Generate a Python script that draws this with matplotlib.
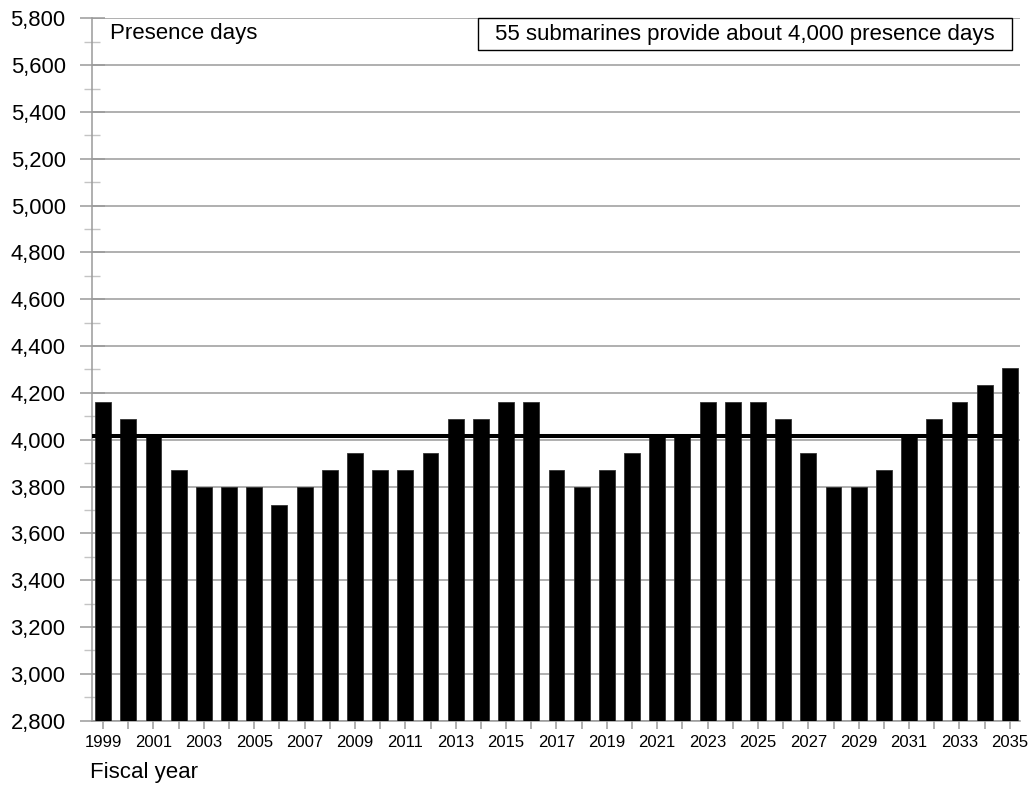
import matplotlib
matplotlib.use("Agg")
import matplotlib.pyplot as plt
from matplotlib.patches import Rectangle
from matplotlib.ticker import MultipleLocator, FuncFormatter

# --- data ---
years = list(range(1999, 2036))
presence_days = [4161, 4088, 4015, 3869, 3796, 3796, 3796, 3723, 3796, 3869,
                 3942, 3869, 3869, 3942, 4088, 4088, 4161, 4161, 3869, 3796,
                 3869, 3942, 4015, 4015, 4161, 4161, 4161, 4088, 3942, 3796,
                 3796, 3869, 4015, 4088, 4161, 4234, 4307]
target_days = 4015  # 55 submarines
box_note = "55 submarines provide about 4,000 presence days"

plt.rcParams["font.family"] = ["Liberation Sans", "DejaVu Sans"]
GRID = "#9a9a9a"

fig = plt.figure(figsize=(10.29, 7.86), dpi=100)
ax = fig.add_axes([0.0894, 0.0831, 0.9018, 0.8936])

ax.bar(years, presence_days, width=0.63, color="black", edgecolor="#333333",
       linewidth=0.6, zorder=3)
ax.hlines(target_days, 1998.56, 2035, color="black", lw=2.9, zorder=4)

ax.set_xlim(1998.56, 2035.4)
ax.set_ylim(2800, 5800)

# y axis: majors every 200 with gridlines, minors every 100
ax.yaxis.set_major_locator(MultipleLocator(200))
ax.yaxis.set_minor_locator(MultipleLocator(100))
ax.yaxis.set_major_formatter(FuncFormatter(lambda v, p: f"{int(v):,}"))
ax.grid(axis="y", which="major", color=GRID, lw=1.1, zorder=0)
ax.tick_params(axis="y", which="major", direction="inout", length=18, width=1.1,
               color=GRID, labelsize=15.8, pad=10)
ax.tick_params(axis="y", which="minor", direction="inout", length=12, width=1.0,
               color="#c4c4c4")

# x axis: tick every year, label every other year
ax.set_xticks(years)
ax.set_xticklabels([str(y) if (y - 1999) % 2 == 0 else "" for y in years])
ax.tick_params(axis="x", direction="out", length=6, width=1.1, color=GRID,
               labelsize=12, pad=4)

for sp in ["top", "right"]:
    ax.spines[sp].set_visible(False)
for sp in ["left", "bottom"]:
    ax.spines[sp].set_color(GRID)
    ax.spines[sp].set_linewidth(1.1)

ax.text(0.0194, 0.9777, "Presence days", transform=ax.transAxes, fontsize=16,
        ha="left", va="center")

ax.add_patch(Rectangle((0.416, 0.9549), 0.575, 0.0451, transform=ax.transAxes,
                       facecolor="white", edgecolor="black", lw=1.0, zorder=5,
                       clip_on=False))
ax.text(0.7035, 0.9775, box_note, transform=ax.transAxes, fontsize=16,
        ha="center", va="center", zorder=6)

fig.text(90 / 1029, 1 - 778 / 786, "Fiscal year", fontsize=16,
         ha="left", va="baseline")

fig.savefig("out.png", dpi=100)
